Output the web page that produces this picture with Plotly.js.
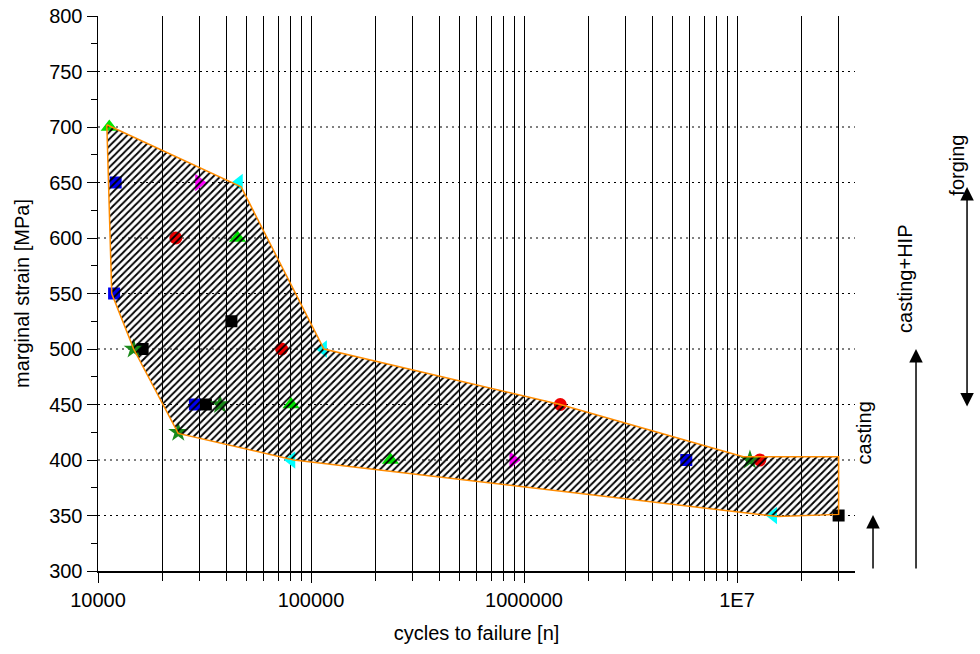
<!DOCTYPE html>
<html>
<head>
<meta charset="utf-8">
<script src="https://cdn.plot.ly/plotly-3.0.1.min.js"></script>
<style>html,body{margin:0;padding:0;background:#fff;}#chart{width:980px;height:654px;}</style>
</head>
<body>
<div id="chart"></div>
<script>
// ---- data ----
var greenTriX = [11300, 45200, 80600, 236000];
var greenTriY = [700, 600, 450, 400];
var blueSqX = [12100, 11900, 28500, 5780000];
var blueSqY = [650, 550, 450, 400];
var blackSqX = [16200, 42300, 32100, 30000000];
var blackSqY = [500, 525, 450, 350];
var redCircX = [23200, 72800, 1480000, 12800000];
var redCircY = [600, 500, 450, 400];
var magTriX = [29800, 890000];
var magTriY = [650, 400];
var cyanTriX = [45900, 114000, 81000, 14800000];
var cyanTriY = [650, 500, 400, 350];
var starX = [14700, 23800, 37400, 11500000];
var starY = [500, 425, 450, 400];

// scatter band envelope
var envX = [11000, 47000, 115000, 1480000, 10700000, 30000000, 30000000, 15500000, 83000, 23800, 14700, 11600, 11000];
var envY = [702, 646, 500, 450, 403, 403, 351, 349, 400, 424, 500, 550, 702];

// axes ticks
var xMajorTicks = [10000, 100000, 1000000, 10000000];
var xMajorText = ['10000', '100000', '1000000', '1E7'];
var xMinorTicks = [20000, 30000, 40000, 50000, 60000, 70000, 80000, 90000,
                   200000, 300000, 400000, 500000, 600000, 700000, 800000, 900000,
                   2000000, 3000000, 4000000, 5000000, 6000000, 7000000, 8000000, 9000000,
                   20000000, 30000000];
var yTicks = [300, 350, 400, 450, 500, 550, 600, 650, 700, 750, 800];
var yGrid = [350, 400, 450, 500, 550, 600, 650, 700, 750];

// right-side process labels
var procLabels = ['casting', 'casting+HIP', 'forging'];

var FONT = 'Liberation Sans, Arial, Helvetica, sans-serif';

function mk(x, y, sym, color, size) {
  return {x: x, y: y, type: 'scatter', mode: 'markers', hoverinfo: 'skip',
          marker: {symbol: sym, color: color, size: size, line: {width: 0}}};
}

var traces = [
  mk(greenTriX, greenTriY, 'triangle-up', '#00e600', 15),
  mk(blueSqX, blueSqY, 'square', '#0000f0', 12),
  mk(blackSqX, blackSqY, 'square', '#000000', 12),
  mk(redCircX, redCircY, 'circle', '#f00000', 13),
  mk(magTriX, magTriY, 'triangle-right', '#ff00ff', 15),
  mk(cyanTriX, cyanTriY, 'triangle-left', '#00ffff', 15),
  mk(starX, starY, 'star', '#1a8a1a', 15),
  {x: envX, y: envY, type: 'scatter', mode: 'lines', fill: 'toself', hoverinfo: 'skip',
   line: {color: '#ff8c00', width: 1.5},
   fillcolor: 'rgba(0,0,0,0)',
   fillpattern: {shape: '/', fgcolor: '#000000', bgcolor: 'rgba(0,0,0,0)', size: 5, solidity: 0.37}}
];

var shapes = yGrid.map(function (v) {
  return {type: 'line', xref: 'paper', yref: 'y', x0: 0, x1: 1, y0: v, y1: v, layer: 'below',
          line: {color: '#000000', width: 1, dash: '2px,4px'}};
});

// paper coordinates of plot: x 98..855 px, y 16..571 px
var annotations = [
  {text: procLabels[0], xref: 'paper', yref: 'paper', x: 1.029, y: 0.189, showarrow: false, textangle: -90,
   font: {family: FONT, size: 20, color: '#000'}},
  {text: procLabels[1], xref: 'paper', yref: 'paper', x: 1.083, y: 0.526, showarrow: false, textangle: -90,
   font: {family: FONT, size: 20, color: '#000'}},
  {text: procLabels[2], xref: 'paper', yref: 'paper', x: 1.152, y: 0.789, showarrow: false, textangle: -90,
   font: {family: FONT, size: 20, color: '#000'}},
  {text: '', xref: 'paper', yref: 'paper', x: 1.0238, y: 0.1009, ax: 0, ay: 55, showarrow: true,
   arrowhead: 2, arrowsize: 1.8, arrowwidth: 1.5, arrowcolor: '#000'},
  {text: '', xref: 'paper', yref: 'paper', x: 1.0806, y: 0.4, ax: 0, ay: 221, showarrow: true,
   arrowhead: 2, arrowsize: 1.8, arrowwidth: 1.5, arrowcolor: '#000'},
  {text: '', xref: 'paper', yref: 'paper', x: 1.148, y: 0.6919, ax: 0, ay: 221, showarrow: true,
   arrowhead: 2, startarrowhead: 2, arrowside: 'end+start', arrowsize: 1.8, startarrowsize: 1.8,
   arrowwidth: 1.5, arrowcolor: '#000'}
];

var layout = {
  width: 980, height: 654,
  margin: {l: 98, r: 125, t: 16, b: 83},
  paper_bgcolor: '#ffffff', plot_bgcolor: '#ffffff',
  showlegend: false,
  font: {family: FONT, size: 20, color: '#000'},
  xaxis: {
    type: 'log', range: [4, 7.554],
    tickmode: 'array', tickvals: xMajorTicks, ticktext: xMajorText,
    ticks: 'outside', ticklen: 10, tickwidth: 1, tickcolor: '#000',
    showline: true, linecolor: '#000', linewidth: 1.5,
    showgrid: true, gridcolor: '#000', gridwidth: 1,
    zeroline: false,
    minor: {tickmode: 'array', tickvals: xMinorTicks, ticks: 'outside', ticklen: 8, tickcolor: '#000',
            showgrid: true, gridcolor: '#000', gridwidth: 1},
    tickfont: {family: FONT, size: 20, color: '#000'},
    title: {text: 'cycles to failure [n]', font: {family: FONT, size: 20, color: '#000'}, standoff: 16}
  },
  yaxis: {
    range: [300, 800],
    tickmode: 'array', tickvals: yTicks,
    ticks: 'outside', ticklen: 10, tickwidth: 1, tickcolor: '#000',
    showline: true, linecolor: '#000', linewidth: 1.5,
    showgrid: false, zeroline: false,
    minor: {tickmode: 'linear', tick0: 300, dtick: 25, ticks: 'outside', ticklen: 6, tickcolor: '#000', showgrid: false},
    tickfont: {family: FONT, size: 20, color: '#000'},
    title: {text: 'marginal strain [MPa]', font: {family: FONT, size: 20, color: '#000'}, standoff: 14}
  },
  shapes: shapes,
  annotations: annotations
};

Plotly.newPlot('chart', traces, layout, {displayModeBar: false, staticPlot: true});
</script>
</body>
</html>
